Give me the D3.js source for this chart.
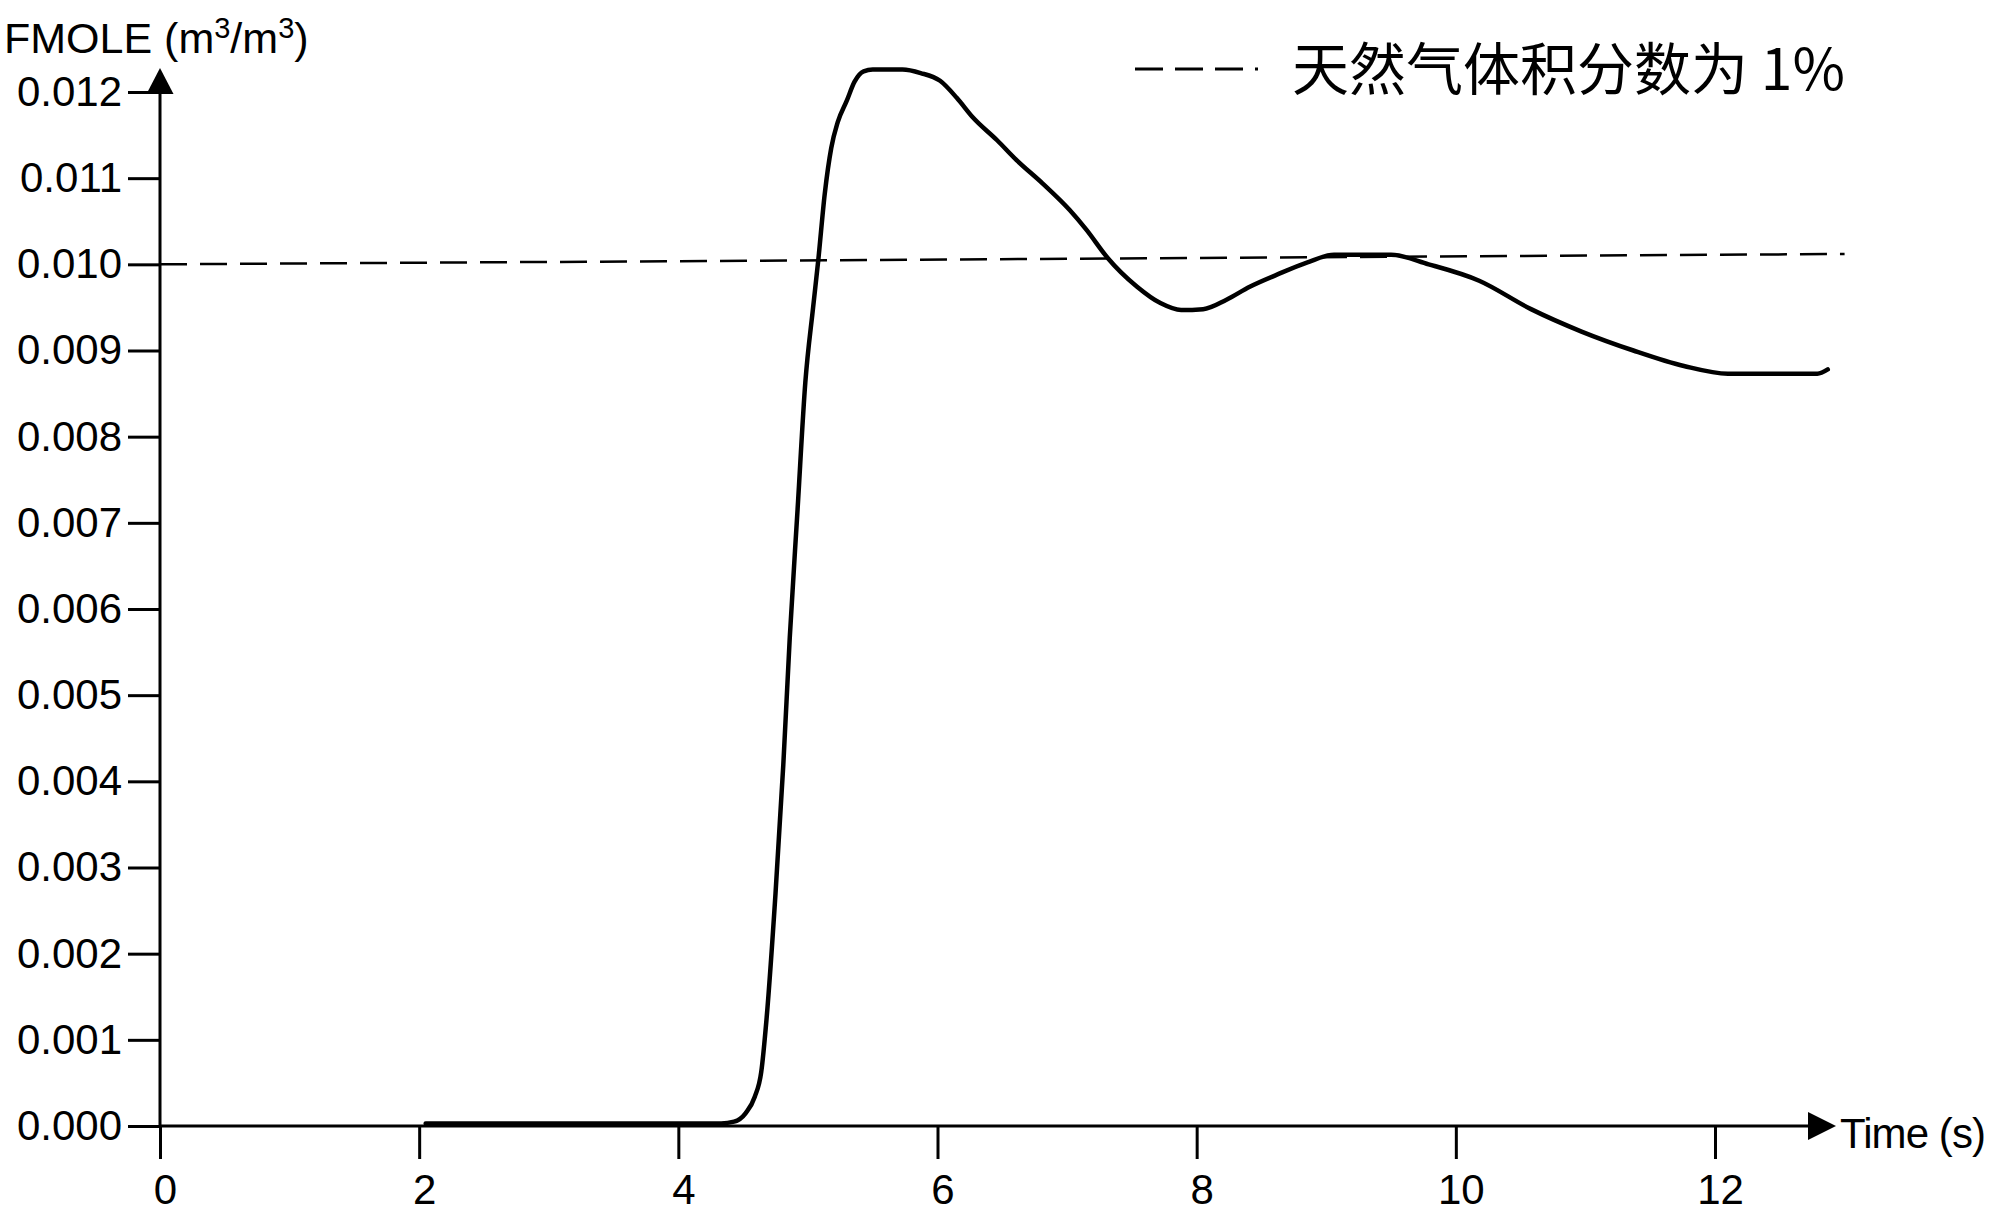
<!DOCTYPE html>
<html>
<head>
<meta charset="utf-8">
<script src="https://cdn.jsdelivr.net/npm/d3@7"></script>
<style>
  body { margin: 0; background: #fff; }
  text { font-family: "Liberation Sans", Arial, sans-serif; fill: #000; }
</style>
</head>
<body>
<div id="chart-area"></div>
<script>
// gas volume fraction vs time

var timeVals = [2.05, 3.0, 4.0, 4.33, 4.43, 4.52, 4.59, 4.64, 4.68, 4.75, 4.81, 4.86, 4.92, 4.98,
  5.04, 5.08, 5.13, 5.18, 5.23, 5.30, 5.36, 5.43, 5.50, 5.73, 5.87, 6.02, 6.15, 6.27, 6.46,
  6.61, 6.81, 7.02, 7.15, 7.31, 7.54, 7.72, 7.88, 8.05, 8.23, 8.41, 8.62, 8.85, 9.06, 9.30,
  9.50, 9.79, 10.18, 10.58, 10.97, 11.37, 11.76, 12.10, 12.35, 12.79, 12.87];
var fmoleVals = [0.00003, 0.00003, 0.00003, 0.00003, 0.00005, 0.00015, 0.00034, 0.00063, 0.00123,
  0.0027, 0.00419, 0.00567, 0.00715, 0.00863, 0.0095, 0.01005, 0.01082, 0.01135, 0.01165,
  0.0119, 0.01212, 0.01224, 0.01226, 0.01226, 0.01222, 0.01213, 0.01193, 0.01171, 0.01144,
  0.01121, 0.01094, 0.01063, 0.0104, 0.01008, 0.00974, 0.00955, 0.00947, 0.00948, 0.00959,
  0.00974, 0.00988, 0.01002, 0.01011, 0.01011, 0.01011, 0.01, 0.00981, 0.00948, 0.00922,
  0.009, 0.00882, 0.00873, 0.00873, 0.00873, 0.00878];

// 1% reference line (drawn slightly tilted in the source)
var refTime = [0, 13];
var refVals = [0.0100, 0.01012];

var xTicks = [0, 2, 4, 6, 8, 10, 12];
var yTicks = [0, 0.001, 0.002, 0.003, 0.004, 0.005, 0.006, 0.007, 0.008, 0.009, 0.010, 0.011, 0.012];

var yLabel = "FMOLE (m";
var xLabel = "Time (s)";
var legendLabel = "天然气体积分数为 1%";

var width = 2000, height = 1219;

var svg = d3.select("#chart-area")
  .append("svg")
  .attr("width", width)
  .attr("height", height);

var x = d3.scaleLinear().domain([0, 12]).range([160, 1715]);
var y = d3.scaleLinear().domain([0, 0.012]).range([1126, 92]);

var data = timeVals.map(function(t, i) { return { t: t, v: fmoleVals[i] }; });
var refData = refTime.map(function(t, i) { return { t: t, v: refVals[i] }; });

// axes
var yAxis = svg.append("g")
  .attr("transform", "translate(" + x(0) + ",0)")
  .call(d3.axisLeft(y).tickValues(yTicks).tickSize(32).tickPadding(6)
    .tickFormat(d3.format(".3f")));
var xAxis = svg.append("g")
  .attr("transform", "translate(0," + y(0) + ")")
  .call(d3.axisBottom(x).tickValues(xTicks).tickSize(33).tickPadding(15)
    .tickFormat(d3.format("d")));

[yAxis, xAxis].forEach(function(g) {
  g.select(".domain").remove();
  g.selectAll(".tick line").attr("stroke", "#000").attr("stroke-width", 3);
  g.selectAll(".tick text").style("font-size", "42px").attr("fill", "#000")
    .style("font-family", "'Liberation Sans', Arial, sans-serif");
});
xAxis.selectAll(".tick text").attr("dx", 5);

// axis lines with arrows
svg.append("line")
  .attr("x1", x(0)).attr("x2", x(0))
  .attr("y1", y(0)).attr("y2", y(0.012) - 10)
  .attr("stroke", "#000").attr("stroke-width", 3);
svg.append("path")
  .attr("d", "M" + x(0) + "," + (y(0.012) - 24) + " l13.5,26 l-27,0 z")
  .attr("fill", "#000");

svg.append("line")
  .attr("x1", x(0)).attr("x2", x(12) + 100)
  .attr("y1", y(0)).attr("y2", y(0))
  .attr("stroke", "#000").attr("stroke-width", 3);
svg.append("path")
  .attr("d", "M" + (x(12) + 121) + "," + y(0) + " l-28,-14 l0,28 z")
  .attr("fill", "#000");

// reference dashed line
svg.append("path")
  .datum(refData)
  .attr("fill", "none")
  .attr("stroke", "#000")
  .attr("stroke-width", 2.5)
  .attr("stroke-dasharray", "27,13")
  .attr("d", d3.line().x(function(d) { return x(d.t); }).y(function(d) { return y(d.v); }));

// main curve
svg.append("path")
  .datum(data)
  .attr("fill", "none")
  .attr("stroke", "#000")
  .attr("stroke-width", 4.5)
  .attr("stroke-linejoin", "round")
  .attr("stroke-linecap", "round")
  .attr("d", d3.line().curve(d3.curveMonotoneX)
    .x(function(d) { return x(d.t); })
    .y(function(d) { return y(d.v); }));

// axis titles
var yt = svg.append("text")
  .attr("x", 4).attr("y", 53)
  .style("font-size", "43px")
  .text(yLabel);
yt.append("tspan").attr("dy", -15).style("font-size", "29px").text("3");
yt.append("tspan").attr("dy", 15).text("/m");
yt.append("tspan").attr("dy", -15).style("font-size", "29px").text("3");
yt.append("tspan").attr("dy", 15).text(")");

svg.append("text")
  .attr("x", x(12) + 125).attr("y", y(0) + 22)
  .style("font-size", "42px")
  .attr("textLength", 146)
  .text(xLabel);

// legend
svg.append("line")
  .attr("x1", 1135).attr("x2", 1258)
  .attr("y1", 69).attr("y2", 69)
  .attr("stroke", "#000").attr("stroke-width", 3)
  .attr("stroke-dasharray", "28,12");
svg.append("text")
  .attr("x", 1292).attr("y", 90)
  .style("font-family", "'Noto Sans CJK SC', sans-serif")
  .style("font-size", "57px")
  .text(legendLabel);
</script>
</body>
</html>
